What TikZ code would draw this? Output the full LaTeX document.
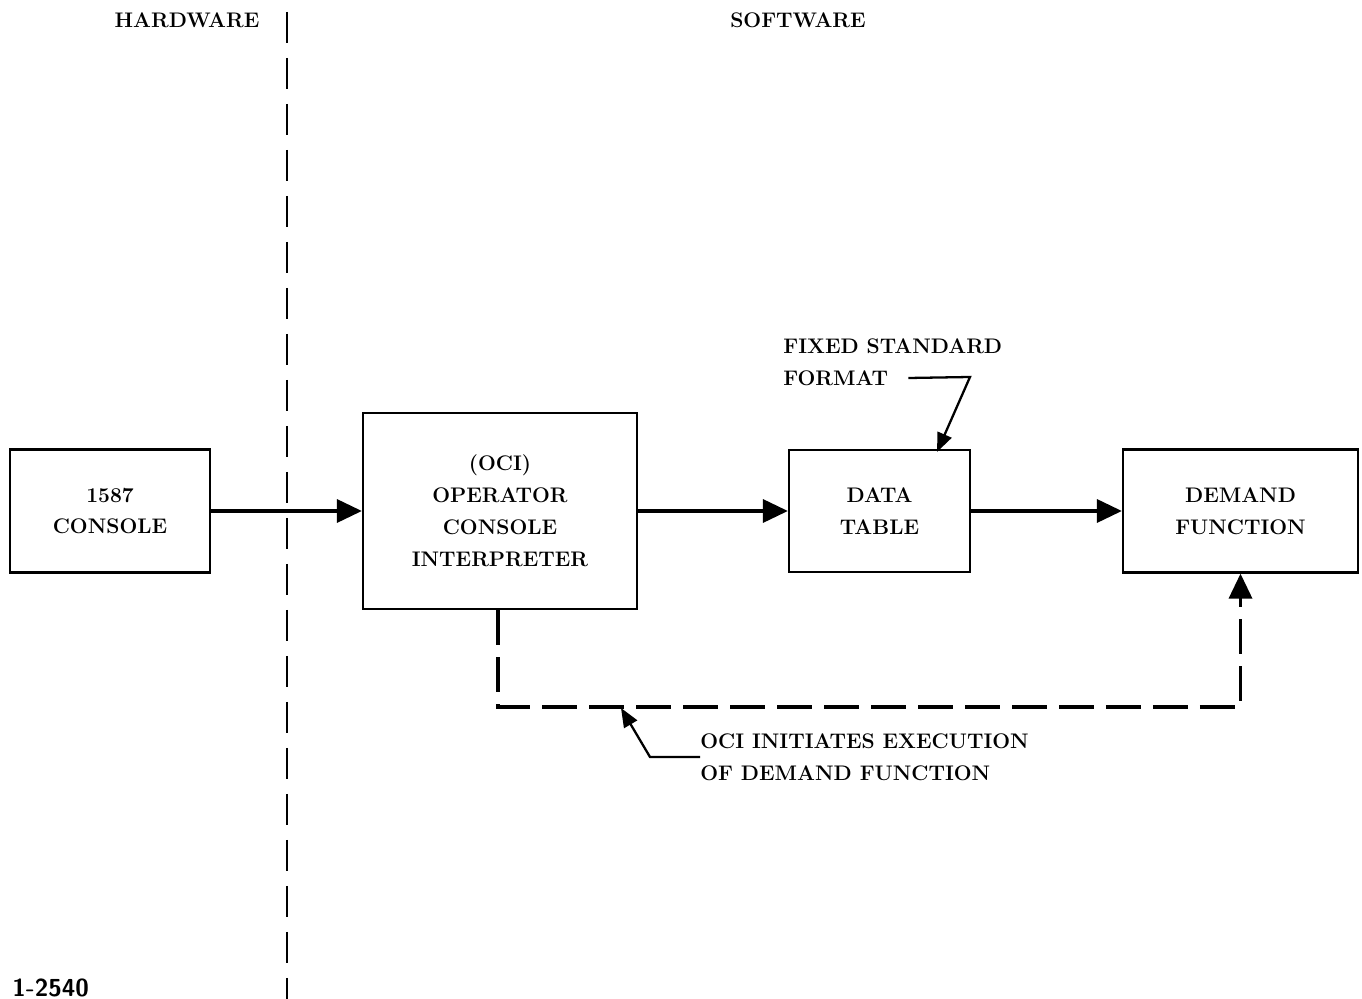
\documentclass[tikz,border=0pt]{standalone}
\usepackage{tikz}
\usetikzlibrary{arrows.meta,positioning}

\begin{document}
\begin{tikzpicture}[
      x=0.02cm, y=-0.02cm,
      font=\fontsize{12}{18.2}\selectfont\bfseries,
      blk/.style={rectangle,draw=black,line width=1.3pt,align=center,inner sep=2pt},
      lbl/.style={inner sep=0pt,align=left},
      flow/.style={-{Triangle[length=5mm,width=4.6mm]},line width=2pt},
      ctl/.style={-{Triangle[length=5mm,width=4.6mm]},line width=2pt,
                  dash pattern=on 0.7cm off 0.24cm},
      lead/.style={-{Triangle[length=3.8mm,width=3mm]},line width=1.3pt},
      divider/.style={line width=1.5pt,dash pattern=on 0.62cm off 0.3cm}]

    \useasboundingbox (0,0) rectangle (1362,999);

    % ---------- hardware / software split ----------
    \node (hw) at (187,20) {HARDWARE};
    \node (sw) at (798,20) {SOFTWARE};
    \coordinate (divtop) at (287,12);
    \coordinate (divbot) at (287,999);
    \draw[divider] (divtop) -- (divbot);

    % ---------- main chain ----------
    \node[blk,minimum width=4cm,minimum height=2.46cm]     (console) at (110,511) {1587\\CONSOLE};
    \node[blk,minimum width=5.48cm,minimum height=3.92cm]  (oci)     at (500,511) {(OCI)\\OPERATOR\\CONSOLE\\INTERPRETER};
    \node[blk,minimum width=3.62cm,minimum height=2.44cm]  (table)   at (879.5,511) {DATA\\TABLE};
    \node[blk,minimum width=4.7cm,minimum height=2.46cm]   (demand)  at (1240.5,511) {DEMAND\\FUNCTION};
    \foreach \a/\b in {console/oci,oci/table,table/demand} \draw[flow] (\a) -- (\b);

    % ---------- execution request ----------
    \coordinate (low) at (498,707);
    \draw[ctl] (oci.south -| low) -- (low) -| (demand.south);

    % ---------- annotations ----------
    \node[lbl,anchor=west] (fmt1) at (783,346) {FIXED STANDARD};
    \node[lbl,anchor=west] (fmt2) at (783,378) {FORMAT};
    \coordinate (fmtknee) at (970,377);
    \coordinate (fmttip)  at (937,452);
    \draw[lead] (fmt2.east) ++(20,0) -- (fmtknee) -- (fmttip);

    \node[lbl,anchor=west] (note) at (700,757) {OCI INITIATES EXECUTION\\OF DEMAND FUNCTION};
    \coordinate (hit) at (621,708);
    \draw[lead] (note.west) -- ++(-50,0) -- (hit);

    \node[lbl,anchor=west,font=\fontsize{14}{16}\selectfont\bfseries\sffamily] (fig) at (12,988) {1-2540};
  \end{tikzpicture}
\end{document}
